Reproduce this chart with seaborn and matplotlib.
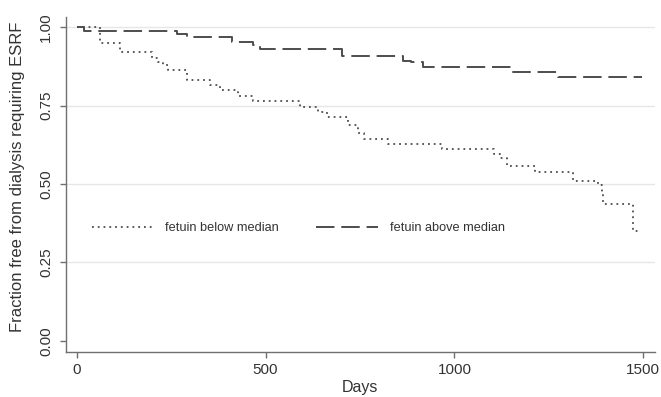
import matplotlib
matplotlib.use("Agg")
import matplotlib.pyplot as plt
import seaborn as sns
import pandas as pd

# ---- data ----
days_below = [0, 62, 116, 199, 216, 229, 243, 291, 353, 379,
              428, 468, 591, 640, 662, 719, 746, 760, 825, 966,
              1105, 1121, 1138, 1213, 1315, 1381, 1390, 1394, 1474, 1491]
surv_below = [1.000, 0.949, 0.920, 0.901, 0.890, 0.880, 0.864, 0.832, 0.816, 0.800,
              0.781, 0.766, 0.747, 0.731, 0.713, 0.688, 0.662, 0.643, 0.628, 0.611,
              0.596, 0.582, 0.557, 0.537, 0.511, 0.497, 0.475, 0.436, 0.351, 0.351]

days_above = [0, 20, 265, 291, 410, 467, 485, 702, 865, 885, 918, 1152, 1275, 1497]
surv_above = [1.000, 0.989, 0.979, 0.968, 0.954, 0.944, 0.931, 0.909, 0.893, 0.888,
              0.872, 0.858, 0.842, 0.842]

label_below = "fetuin below median"
label_above = "fetuin above median"
x_ticks = [0, 500, 1000, 1500]
y_ticks = [0.00, 0.25, 0.50, 0.75, 1.00]
x_label = "Days"
y_label = "Fraction free from dialysis requiring ESRF"

sns.set_theme(style="white")
plt.rcParams["font.family"] = ["Liberation Sans", "DejaVu Sans"]

W, H = 661, 397
fig = plt.figure(figsize=(W / 100, H / 100), dpi=100)
left_px, right_px, top_px, bottom_px = 65.7, 655.0, 16.7, 351.7
ax = fig.add_axes([left_px / W, 1 - bottom_px / H,
                   (right_px - left_px) / W, (bottom_px - top_px) / H])

line_color = "#4d4d4d"
text_color = "#333333"

# grid lines
for yv in y_ticks[1:]:
    ax.axhline(yv, color="#e6e6e6", lw=1.0, zorder=0)

df_b = pd.DataFrame({"days": days_below, "surv": surv_below})
df_a = pd.DataFrame({"days": days_above, "surv": surv_above})

sns.lineplot(data=df_b, x="days", y="surv", ax=ax, color=line_color,
             lw=1.3, label=label_below, estimator=None)
lb = ax.lines[-1]
lb.set_drawstyle("steps-post")
lb.set_linestyle((0, (1.0, 2.2)))

sns.lineplot(data=df_a, x="days", y="surv", ax=ax, color=line_color,
             lw=1.4, label=label_above, estimator=None)
la = ax.lines[-1]
la.set_drawstyle("steps-post")
la.set_linestyle((0, (9.5, 3.5)))

ax.set_xlim(-29, 1531)
ax.set_ylim(-0.035, 1.034)
ax.set_xticks(x_ticks)
ax.set_xticklabels([str(v) for v in x_ticks])
ax.set_yticks(y_ticks)
ax.set_yticklabels([f"{v:.2f}" for v in y_ticks], rotation=90, va="center")

for s in ["top", "right"]:
    ax.spines[s].set_visible(False)
for s in ["left", "bottom"]:
    ax.spines[s].set_color("#707070")
    ax.spines[s].set_linewidth(1.0)

ax.tick_params(axis="both", which="major", length=4, width=1.0,
               color="#707070", labelcolor=text_color, labelsize=11,
               bottom=True, left=True)
ax.tick_params(axis="x", pad=4)
ax.tick_params(axis="y", pad=5)

ax.set_xlabel(x_label, fontsize=11.5, color=text_color, labelpad=2)
ax.set_ylabel(y_label, fontsize=12, color=text_color)
ax.yaxis.set_label_coords(-0.069, 0.523)

handles, labels = ax.get_legend_handles_labels()
ax.legend(handles, labels, ncol=2, frameon=False, loc="center left",
          bbox_to_anchor=(92 / W, 1 - 228.3 / H), bbox_transform=fig.transFigure,
          fontsize=9.2, handlelength=4.8, handletextpad=0.95, columnspacing=2.9,
          borderpad=0, borderaxespad=0, labelcolor=text_color)

fig.savefig("out.png", dpi=100)
